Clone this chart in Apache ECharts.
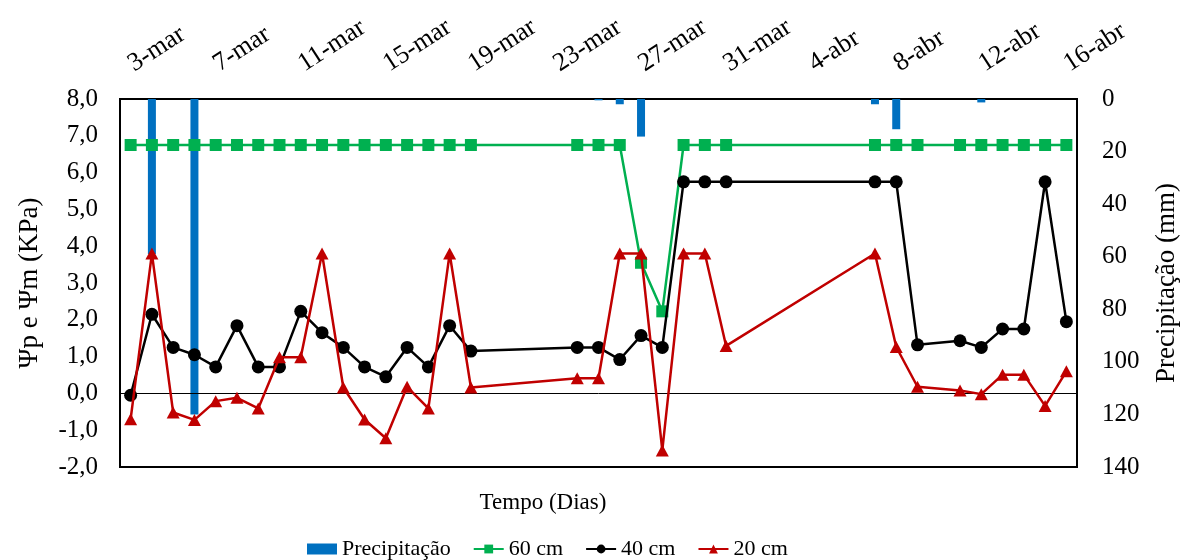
<!DOCTYPE html>
<html>
<head>
<meta charset="utf-8">
<script src="https://cdn.jsdelivr.net/npm/echarts@6/dist/echarts.min.js"></script>
<style>
html,body{margin:0;padding:0;background:#fff;}
#chart{width:1182px;height:560px;}
</style>
</head>
<body>
<div id="chart"></div>
<script>
const days = ['3-mar','4-mar','5-mar','6-mar','7-mar','8-mar','9-mar','10-mar','11-mar','12-mar',
  '13-mar','14-mar','15-mar','16-mar','17-mar','18-mar','19-mar','20-mar','21-mar','22-mar',
  '23-mar','24-mar','25-mar','26-mar','27-mar','28-mar','29-mar','30-mar','31-mar','1-abr',
  '2-abr','3-abr','4-abr','5-abr','6-abr','7-abr','8-abr','9-abr','10-abr','11-abr',
  '12-abr','13-abr','14-abr','15-abr','16-abr'];

const precipitacao = [null,59,null,120,null,null,null,null,null,null,
  null,null,null,null,null,null,null,null,null,null,
  null,null,0.5,2,14.3,null,null,null,null,null,
  null,null,null,null,null,2,11.5,null,null,null,
  1.3,null,null,null,null];

const cm60 = [6.75,6.75,6.75,6.75,6.75,6.75,6.75,6.75,6.75,6.75,
  6.75,6.75,6.75,6.75,6.75,6.75,6.75,null,null,null,
  null,6.75,6.75,6.75,3.55,2.23,6.75,6.75,6.75,null,
  null,null,null,null,null,6.75,6.75,6.75,null,6.75,
  6.75,6.75,6.75,6.75,6.75];

const cm40 = [-0.05,2.15,1.25,1.05,0.72,1.84,0.72,0.72,2.23,1.65,
  1.25,0.72,0.45,1.25,0.72,1.84,1.15,null,null,null,
  null,1.25,1.25,0.92,1.57,1.25,5.75,5.75,5.75,null,
  null,null,null,null,null,5.75,5.75,1.32,null,1.43,
  1.25,1.75,1.75,5.75,1.95];

const cm20 = [-0.7,3.8,-0.52,-0.72,-0.21,-0.12,-0.41,0.98,0.98,3.8,
  0.16,-0.71,-1.22,0.18,-0.41,3.8,0.16,null,null,null,
  null,0.41,0.41,3.8,3.8,-1.55,3.8,3.8,1.29,null,
  null,null,null,null,null,3.8,1.26,0.18,null,0.08,
  -0.02,0.51,0.51,-0.34,0.60];

const leftTicks = ['-2,0','-1,0','0,0','1,0','2,0','3,0','4,0','5,0','6,0','7,0','8,0'];
const rightTicks = ['0','20','40','60','80','100','120','140'];

const FONT = '"Liberation Serif", "Times New Roman", serif';
const chart = echarts.init(document.getElementById('chart'), null, {renderer: 'canvas'});

chart.setOption({
  animation: false,
  backgroundColor: '#fff',
  textStyle: {fontFamily: FONT, color: '#000'},
  grid: {left: 120, right: 105, top: 99, bottom: 93, show: true, borderColor: '#000', borderWidth: 2,
    backgroundColor: 'transparent', containLabel: false, outerBoundsMode: 'none'},
  legend: {
    left: 307, top: 538, padding: 0, itemGap: 22, itemWidth: 30, itemHeight: 11,
    textStyle: {fontFamily: FONT, fontSize: 22, color: '#000'},
    data: [{name: 'Precipitação', icon: 'rect'}, {name: '60 cm'}, {name: '40 cm'}, {name: '20 cm'}]
  },
  graphic: [{
    type: 'text', x: 543, y: 503,
    style: {text: 'Tempo (Dias)', font: '23px ' + FONT, fill: '#000', textAlign: 'center', textVerticalAlign: 'middle'}
  }],
  xAxis: [{
    type: 'category', position: 'top', data: days, boundaryGap: true,
    axisLine: {show: false}, axisTick: {show: false}, splitLine: {show: false},
    axisLabel: {interval: 3, rotate: 33, margin: 33, fontSize: 26, fontFamily: FONT, color: '#000'}
  }],
  yAxis: [{
    type: 'value', min: -2, max: 8, interval: 1, position: 'left',
    name: 'Ψp e Ψm (KPa)', nameLocation: 'middle', nameGap: 77,
    nameTextStyle: {fontSize: 27, fontFamily: FONT, color: '#000'},
    axisLine: {show: false}, axisTick: {show: false}, splitLine: {show: false},
    axisLabel: {margin: 22, fontSize: 25, fontFamily: FONT, color: '#000',
      formatter: v => leftTicks[Math.round(v + 2)]}
  }, {
    type: 'value', min: 0, max: 140, interval: 20, position: 'right', inverse: true,
    name: 'Precipitação (mm)', nameLocation: 'middle', nameGap: 76,
    nameTextStyle: {fontSize: 27, fontFamily: FONT, color: '#000'},
    axisLine: {show: false}, axisTick: {show: false}, splitLine: {show: false},
    axisLabel: {margin: 25, fontSize: 25, fontFamily: FONT, color: '#000',
      formatter: v => rightTicks[Math.round(v / 20)]}
  }],
  series: [{
    name: 'Precipitação', type: 'bar', yAxisIndex: 1, data: precipitacao,
    barWidth: 8, itemStyle: {color: '#0070C0'}, z: 1
  }, {
    name: '60 cm', type: 'line', yAxisIndex: 0, data: cm60, connectNulls: true,
    symbol: 'rect', symbolSize: 12, showAllSymbol: true,
    lineStyle: {color: '#00B050', width: 2.5}, itemStyle: {color: '#00B050'}, z: 3,
    markLine: {silent: true, symbol: ['none', 'none'], label: {show: false}, animation: false,
      lineStyle: {color: '#000', width: 1, type: 'solid'}, data: [{yAxis: 0}], z: 2}
  }, {
    name: '40 cm', type: 'line', yAxisIndex: 0, data: cm40, connectNulls: true,
    symbol: 'circle', symbolSize: 13, showAllSymbol: true,
    lineStyle: {color: '#000', width: 2.5}, itemStyle: {color: '#000'}, z: 4
  }, {
    name: '20 cm', type: 'line', yAxisIndex: 0, data: cm20, connectNulls: true,
    symbol: 'triangle', symbolSize: [13, 12], showAllSymbol: true,
    lineStyle: {color: '#C00000', width: 2.5}, itemStyle: {color: '#C00000'}, z: 5
  }]
});
</script>
</body>
</html>
